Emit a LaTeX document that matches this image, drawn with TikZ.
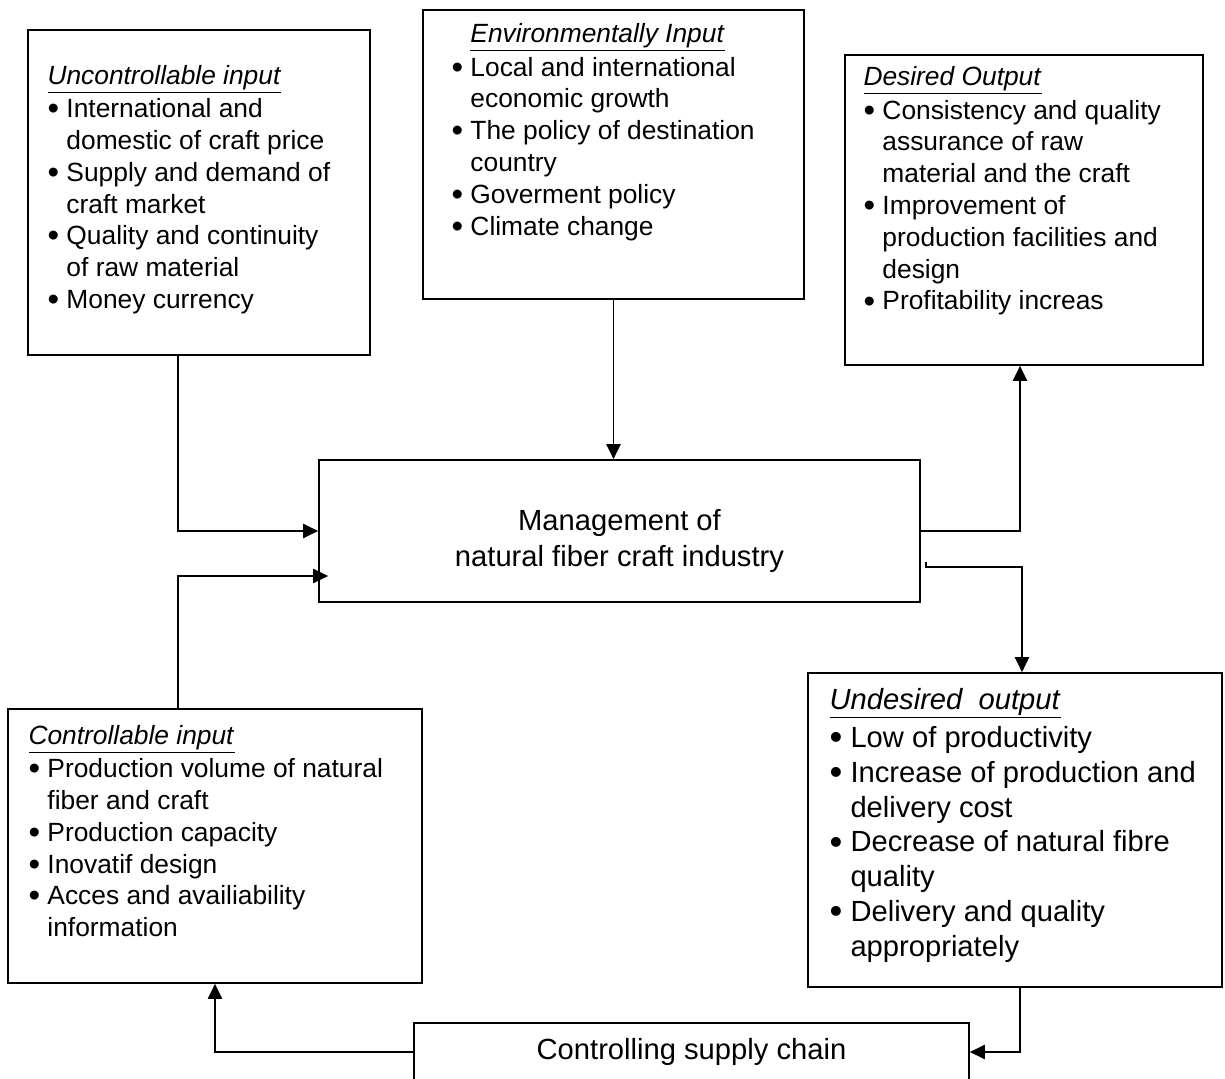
\documentclass[tikz,border=0pt]{standalone}
\usepackage{fontspec}
\setmainfont{Liberation Sans}
\usepackage{tikz}
\usetikzlibrary{arrows.meta,positioning}
\newcommand{\hd}[1]{\underline{\textit{#1}}}
\newcommand{\itm}{\makebox[0.72em][l]{\raisebox{-0.08em}{\scalebox{1.25}{\textbullet}}}}
\newcommand{\ind}{\hspace*{0.72em}}

\begin{document}
\begin{tikzpicture}[x=0.02cm, y=-0.02cm, >=Triangle]
\tikzset{
  box/.style={draw, line width=1pt, inner sep=0pt},
  txt/.style={align=left, inner sep=0pt, font=\fontsize{15}{18.1}\selectfont},
  big/.style={align=center, inner sep=0pt, font=\fontsize{16.6}{20.4}\selectfont},
  arr/.style={-{Triangle[length=8.5pt,width=8pt]}, line width=1pt}
}
\useasboundingbox (0,0) rectangle (1225,1079);
\node[box, minimum width=6.84cm, minimum height=6.5cm] (uncb) at (199,192.5) {};
\node[box, minimum width=7.62cm, minimum height=5.78cm] (envb) at (613.5,154.5) {};
\node[box, minimum width=7.16cm, minimum height=6.2cm] (desb) at (1024,210) {};
\node[box, minimum width=12.02cm, minimum height=2.84cm] (mgmt) at (619.5,531) {};
\node[box, minimum width=8.28cm, minimum height=5.48cm] (ctrlb) at (215,846) {};
\node[box, minimum width=8.28cm, minimum height=6.28cm] (undb) at (1015,830) {};
\node[box, big, minimum width=11.1cm, minimum height=1.16cm] (csc) at (691.5,1052) {Controlling supply chain};

\node[big] (mgmtt) at ([yshift=-0.2cm]mgmt.center) {Management of\\natural fiber craft industry};

\node[txt, below right=0.71cm and 0.4cm of uncb.north west] (unct) {\hd{Uncontrollable input}\\[1pt]
\itm International and\\
\ind domestic of craft price\\
\itm Supply and demand of\\
\ind craft market\\
\itm Quality and continuity\\
\ind of raw material\\
\itm Money currency};

\node[txt, below right=0.28cm and 0.58cm of envb.north west] (envt) {\ind\hd{Environmentally Input}\\[1pt]
\itm Local and international\\
\ind economic growth\\
\itm The policy of destination\\
\ind country\\
\itm Goverment policy\\
\itm Climate change};

\node[txt, below right=0.24cm and 0.38cm of desb.north west] (dest) {\hd{Desired Output}\\[1pt]
\itm Consistency and quality\\
\ind assurance of raw\\
\ind material and the craft\\
\itm Improvement of\\
\ind production facilities and\\
\ind design\\
\itm Profitability increas};

\node[txt, below right=0.33cm and 0.42cm of ctrlb.north west] (ctrlt) {\hd{Controllable input}\\[1pt]
\itm Production volume of natural\\
\ind fiber and craft\\
\itm Production capacity\\
\itm Inovatif design\\
\itm Acces and availiability\\
\ind information};

\node[txt, font=\fontsize{16.6}{19.8}\selectfont, below right=0.31cm and 0.44cm of undb.north west] (undt) {\hd{Undesired\ \ output}\\[2pt]
\itm Low of productivity\\
\itm Increase of production and\\
\ind delivery cost\\
\itm Decrease of natural fibre\\
\ind quality\\
\itm Delivery and quality\\
\ind appropriately};

\draw[arr] ([xshift=-0.42cm]uncb.south) |- (mgmt.west);
\draw[arr] ([xshift=-0.74cm]ctrlb.north) |- ([xshift=0.2cm,yshift=-0.9cm]mgmt.west);
\draw[arr] (envb.south) -- (envb.south |- mgmt.north);
\draw[arr] (mgmt.east) -| ([xshift=-0.08cm]desb.south);
\draw[arr] ([xshift=0.1cm,yshift=-0.62cm]mgmt.east) -- ++(0,5) -| ([xshift=0.14cm]undb.north);
\draw[arr] ([xshift=0.1cm]undb.south) |- (csc.east);
\draw[arr] (csc.west) -| (ctrlb.south);
\end{tikzpicture}
\end{document}
